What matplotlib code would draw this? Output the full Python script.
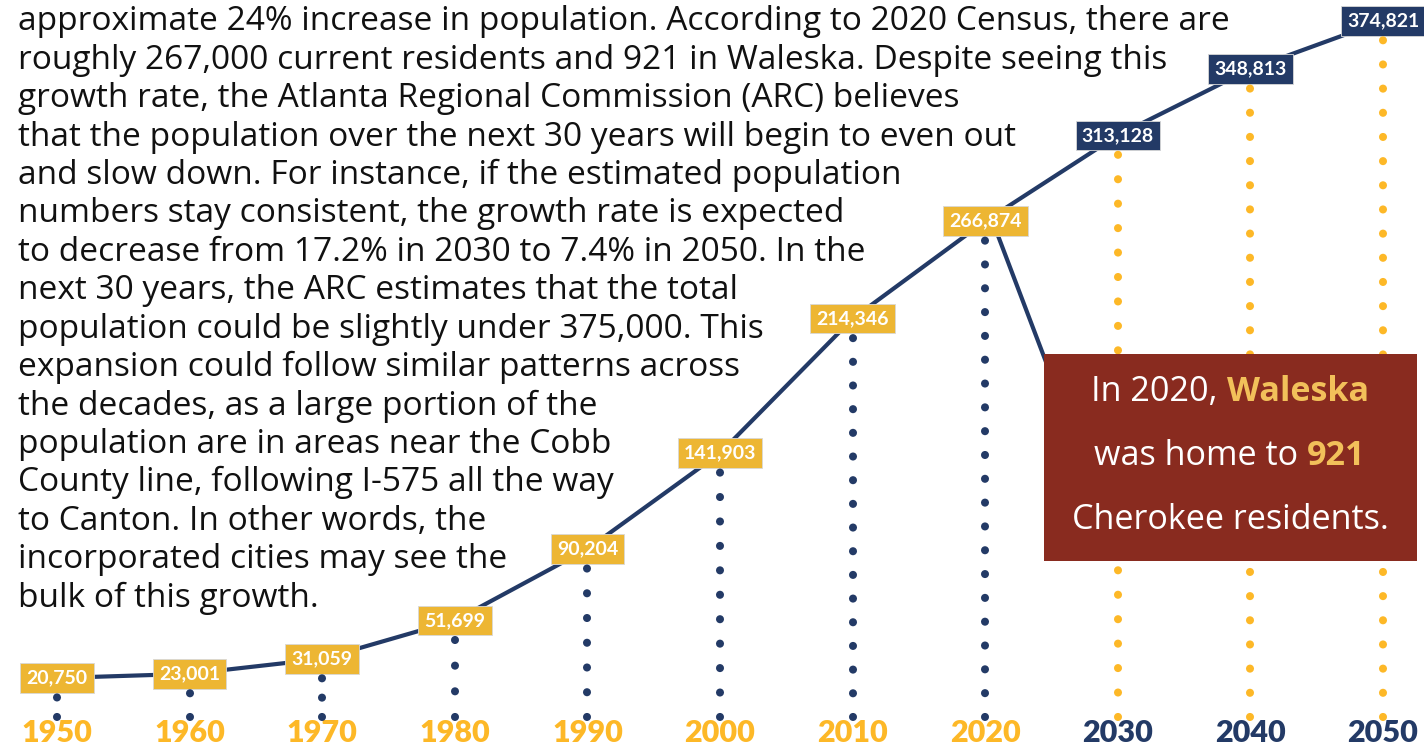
import matplotlib.pyplot as plt
from matplotlib.patches import Rectangle

# -- data --
years = [1950, 1960, 1970, 1980, 1990, 2000, 2010, 2020, 2030, 2040, 2050]
population = [20750, 23001, 31059, 51699, 90204, 141903, 214346, 266874, 313128, 348813, 374821]
value_labels = ["20,750", "23,001", "31,059", "51,699", "90,204", "141,903",
                "214,346", "266,874", "313,128", "348,813", "374,821"]
projected = [False] * 8 + [True] * 3

paragraph = [
    "approximate 24% increase in population. According to 2020 Census, there are",
    "roughly 267,000 current residents and 921 in Waleska. Despite seeing this",
    "growth rate, the Atlanta Regional Commission (ARC) believes",
    "that the population over the next 30 years will begin to even out",
    "and slow down. For instance, if the estimated population",
    "numbers stay consistent, the growth rate is expected",
    "to decrease from 17.2% in 2030 to 7.4% in 2050. In the",
    "next 30 years, the ARC estimates that the total",
    "population could be slightly under 375,000. This",
    "expansion could follow similar patterns across",
    "the decades, as a large portion of the",
    "population are in areas near the Cobb",
    "County line, following I-575 all the way",
    "to Canton. In other words, the",
    "incorporated cities may see the",
    "bulk of this growth.",
]

callout = [
    [("In 2020, ", False), ("Waleska", True)],
    [("was home to ", False), ("921", True)],
    [("Cherokee residents.", False)],
]

# -- colours --
navy = "#233a66"
label_gold = "#edb633"
year_gold = "#fdb827"
brick = "#892b1f"
callout_gold = "#f2c05a"

W, H = 1424, 751
fig = plt.figure(figsize=(W / 100, H / 100), dpi=100)
ax = fig.add_axes([0, 0, 1, 1])
ax.set_xlim(1945.70, 2053.09)
ax.set_ylim(-18580, 386050)
ax.axis("off")
fig.canvas.draw()
renderer = fig.canvas.get_renderer()

# -- main line --
ax.plot(years, population, color=navy, lw=3, zorder=3)

# -- dotted drop lines (bottom dot anchored, spacing fitted per line) --
lw = 5.8
for yr, pop, proj in zip(years, population, projected):
    c = year_gold if proj else navy
    top = pop - 10240
    y0 = ax.transData.transform((yr, 0))[1]
    y1 = ax.transData.transform((yr, top))[1]
    L = y1 - y0
    n = max(1, round(L / 24))
    gap_pt = (L / n) * 72 / 100
    ax.plot([yr, yr], [0, top + 1500], color=c, lw=lw,
            linestyle=(0, (0.01, gap_pt / lw - 0.01)),
            dash_capstyle="round", zorder=7)

# -- value labels --
for yr, pop, lab, proj in zip(years, population, value_labels, projected):
    bg = navy if proj else label_gold
    ax.text(yr, pop, lab, ha="center", va="center", color="white",
            fontsize=14, fontweight="bold", family="Lato", zorder=5,
            bbox=dict(boxstyle="square,pad=0.32", fc=bg, ec="#d8d8d8", lw=0.6))

# -- year labels --
for yr, proj in zip(years, projected):
    ax.text(yr, 0.024, str(yr), transform=ax.get_xaxis_transform(),
            ha="center", va="center", color=navy if proj else year_gold,
            fontsize=22, fontweight="heavy", family="Lato", zorder=6)

# -- paragraph: size fitted so the first line spans the same width --
probe = ax.text(0, 0, paragraph[0], fontsize=20, family="Open Sans")
para_size = 20 * 1207 / probe.get_window_extent(renderer).width
probe.remove()
for i, line in enumerate(paragraph):
    ax.text(18 / W, 1 - (22 + 38.4 * i) / H, line, ha="left", va="center",
            fontsize=para_size, family="Open Sans", color="#111111",
            transform=fig.transFigure)

# -- callout connector and box --
ax.annotate("", xy=(1046 / W, 1 - 362 / H), xycoords="figure fraction",
            xytext=(997 / W, 1 - 233 / H), textcoords="figure fraction",
            arrowprops=dict(arrowstyle="-", color=navy, lw=3,
                            shrinkA=0, shrinkB=0), zorder=3)
ax.add_patch(Rectangle((1044 / W, 1 - 561 / H), 373 / W, 207 / H,
                       transform=fig.transFigure, fc=brick, ec="none",
                       zorder=8))

probe = ax.text(0, 0, "Cherokee residents.", fontsize=20, family="Open Sans")
call_size = 20 * 316 / probe.get_window_extent(renderer).width
probe.remove()
for i, pieces in enumerate(callout):
    yc = 1 - (392 + 64 * i) / H
    texts = []
    prev = None
    for txt, bold in pieces:
        kw = dict(fontsize=call_size, family="Open Sans", zorder=9,
                  color=callout_gold if bold else "white",
                  fontweight="bold" if bold else "normal")
        if prev is None:
            t = ax.text(0, yc, txt, ha="left", va="center",
                        transform=fig.transFigure, **kw)
        else:
            t = ax.annotate(txt, xy=(1, 0), xycoords=prev, ha="left",
                            va="bottom", annotation_clip=False, **kw)
        texts.append(t)
        prev = t
    total = sum(t.get_window_extent(renderer).width for t in texts)
    texts[0].set_x((1230 - total / 2) / W)

fig.savefig("out.png", dpi=100)
